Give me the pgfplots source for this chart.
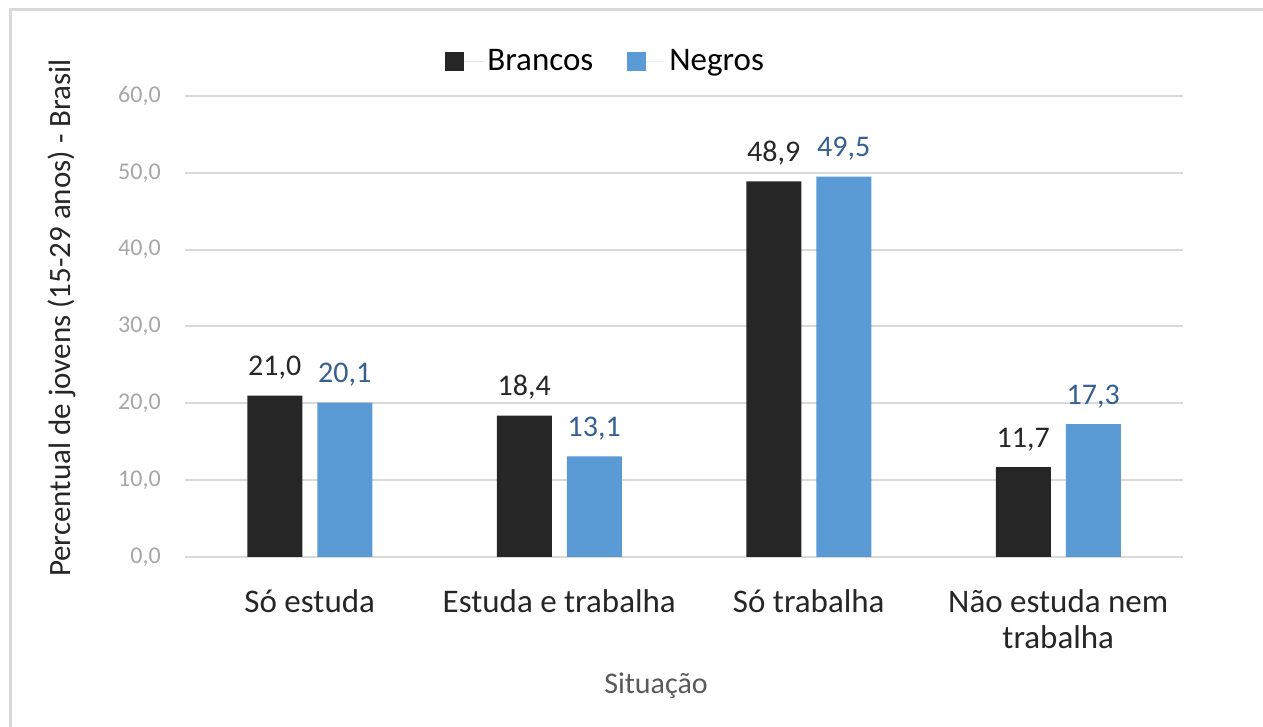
\documentclass[border=0pt]{standalone}
\usepackage{fontspec}
\setmainfont{Carlito}
\usepackage{pgfplots}
\pgfplotsset{compat=1.18}
\definecolor{barblack}{RGB}{38,38,38}
\definecolor{barblue}{RGB}{91,155,213}
\definecolor{lblblue}{RGB}{55,96,146}
\definecolor{gridgray}{RGB}{217,217,217}
\definecolor{tickgray}{RGB}{166,166,166}
\definecolor{titlegray}{RGB}{89,89,89}

\begin{document}
\begin{tikzpicture}
% picture in px units: 1 px = 0.5pt
\useasboundingbox (0,0) rectangle (631.5pt,363.5pt);
\draw[gridgray, line width=1.2pt] (5.2pt,-2pt) -- (5.2pt,358.7pt) -- (640pt,358.7pt);

\begin{axis}[
  at={(92.5pt,85pt)}, anchor=south west,
  scale only axis, width=499pt, height=230.5pt,
  ybar=7.5pt, bar width=27.5pt,
  xmin=-0.5, xmax=3.5, ymin=0, ymax=60,
  xtick={0,1,2,3},
  xticklabels={Só estuda, Estuda e trabalha, Só trabalha, {Não estuda nem\\trabalha}},
  ytick={0,10,20,30,40,50,60},
  axis lines=left,
  x axis line style={gridgray, line width=1pt, -},
  y axis line style={draw=none},
  tick style={draw=none},
  ymajorgrids, grid style={gridgray, line width=1pt},
  /pgf/number format/assume math mode=true,
  yticklabel style={font=\fontsize{12}{14}\selectfont, text=tickgray, xshift=-6.5pt,
    /pgf/number format/.cd, fixed, fixed zerofill, precision=1, use comma},
  xticklabel style={font=\fontsize{16.5}{18}\selectfont, align=center, text=barblack, yshift=-10.5pt},
  nodes near coords={\pgfmathprintnumber[fixed,fixed zerofill,precision=1,use comma,assume math mode=true]{\pgfplotspointmeta}},
  every node near coord/.append style={font=\fontsize{15}{17}\selectfont, yshift=4.5pt},
  legend style={at={(0.4225,1.075)}, anchor=center, draw=none, fill=none,
    legend columns=2, font=\fontsize{16.5}{18}\selectfont,
    /tikz/every even column/.append style={column sep=15pt}},
  legend image code/.code={\fill[#1] (0pt,-4.75pt) rectangle (9.5pt,4.75pt);
    \path (0pt,0pt) -- (19pt,0pt);},
  clip=false,
]
\addplot[fill=barblack, draw=none, every node near coord/.append style={text=barblack}]
  coordinates {(0,21.0) (1,18.4) (2,48.9) (3,11.7)};
\addlegendentry{Brancos}
\addplot[fill=barblue, draw=none, every node near coord/.append style={text=lblblue}]
  coordinates {(0,20.1) (1,13.1) (2,49.5) (3,17.3)};
\addlegendentry{Negros}
\end{axis}

\node[rotate=90, font=\fontsize{15.5}{17}\selectfont, text=barblack] at (31pt,204.5pt)
  {Percentual de jovens (15-29 anos) - Brasil};
\node[font=\fontsize{15}{17}\selectfont, text=titlegray] at (328pt,20.5pt) {Situação};
\end{tikzpicture}
\end{document}
